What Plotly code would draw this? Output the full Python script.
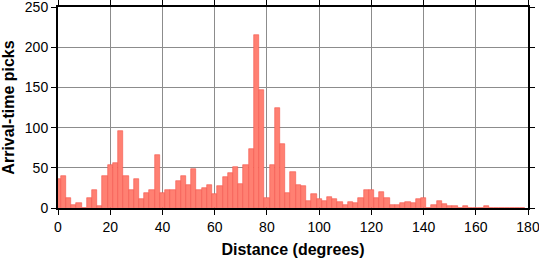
import plotly.graph_objects as go

# Histogram of arrival-time picks, 2-degree bins centred on even degrees
bin_centers = [2 * k for k in range(90)]
counts = [36, 40, 12, 4, 6, 0, 12, 23, 3, 40,
          54, 56, 96, 40, 22, 36, 11, 19, 22, 66,
          19, 22, 22, 33, 40, 28, 48, 23, 25, 29,
          18, 27, 39, 44, 51, 30, 53, 73, 215, 147,
          12, 53, 125, 79, 19, 45, 28, 27, 9, 18,
          11, 9, 14, 11, 8, 4, 8, 6, 12, 23,
          22, 13, 20, 12, 4, 4, 6, 7, 6, 11,
          12, 0, 4, 9, 5, 3, 3, 0, 2, 0,
          0, 0, 3, 0, 0, 0, 0, 0, 0, 0]
x_ticks = [0, 20, 40, 60, 80, 100, 120, 140, 160, 180]
y_ticks = [0, 50, 100, 150, 200, 250]

fig = go.Figure(go.Bar(
    x=bin_centers, y=counts, width=2,
    marker=dict(color="rgb(255,128,114)", line=dict(color="rgb(245,85,75)", width=0.6)),
))

axis_common = dict(
    showline=True, linecolor="black", linewidth=2, mirror="ticks",
    ticks="outside", ticklen=5, tickwidth=1.2, tickcolor="black",
    showgrid=True, gridcolor="rgb(140,140,140)", gridwidth=1,
    zeroline=False, automargin=False, ticklabeloverflow="allow",
    tickfont=dict(family="Liberation Sans", size=14, color="black"),
)

fig.update_layout(
    width=539, height=258,
    margin=dict(l=58, r=11, t=7, b=50),
    plot_bgcolor="white", paper_bgcolor="white",
    bargap=0, showlegend=False,
    xaxis=dict(range=[0, 180], tickvals=x_ticks,
               title=dict(text="<b>Distance (degrees)</b>",
                          font=dict(family="Liberation Sans", size=16, color="black")),
               **axis_common),
    yaxis=dict(range=[0, 250], tickvals=y_ticks,
               title=dict(text="<b>Arrival-time picks</b>",
                          font=dict(family="Liberation Sans", size=16, color="black")),
               **axis_common),
)

fig.write_html("out.html")
